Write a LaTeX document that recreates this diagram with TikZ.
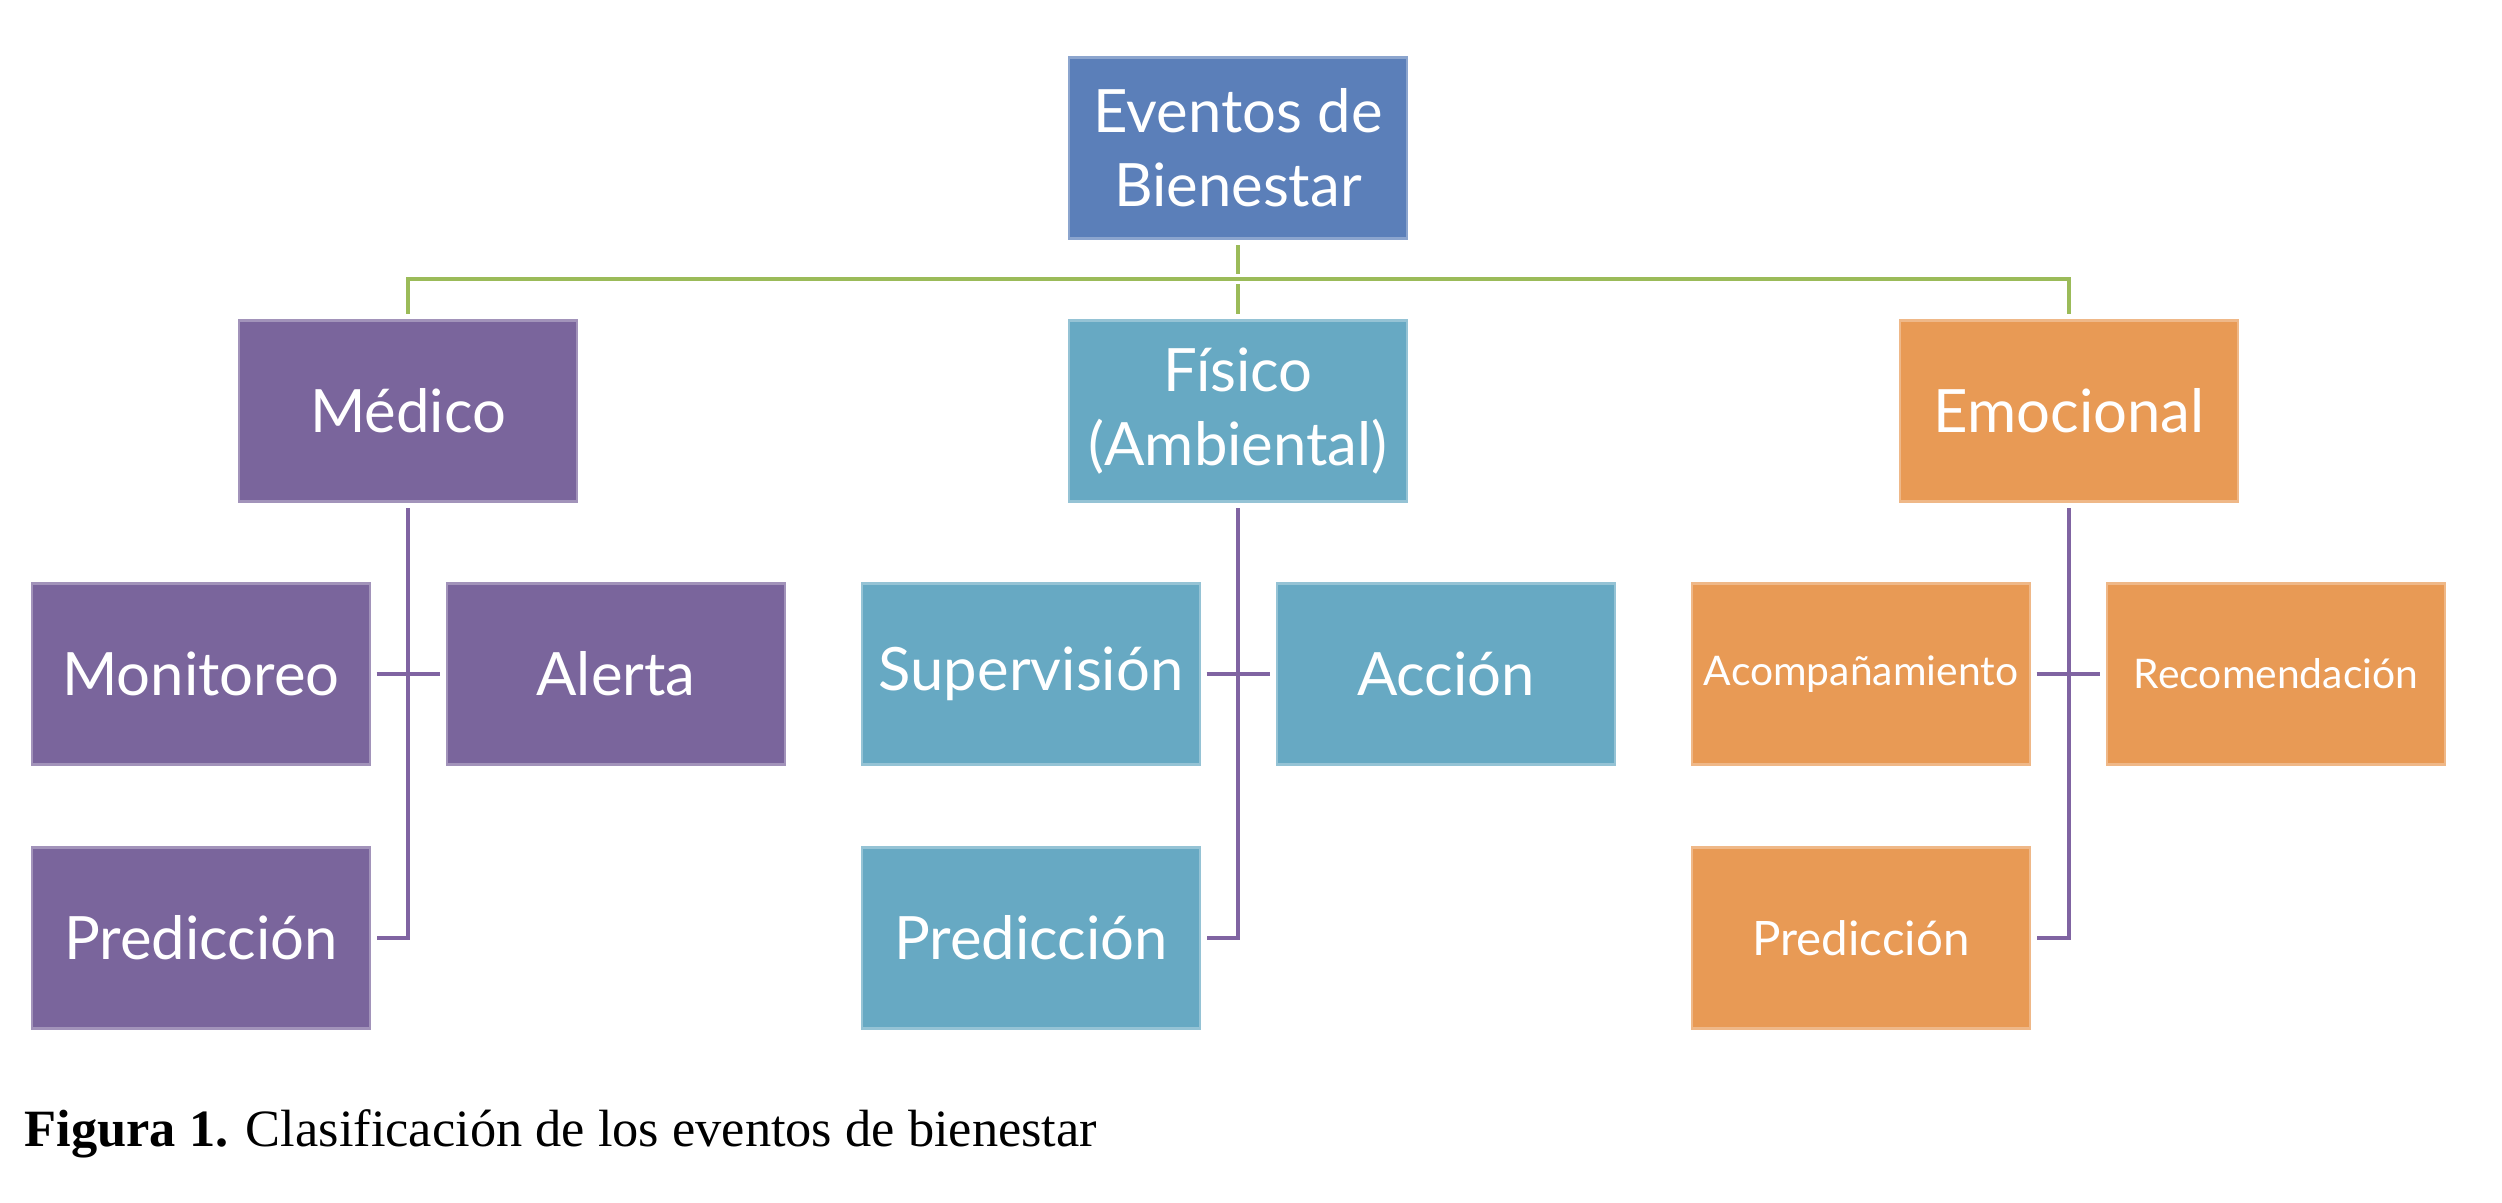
\documentclass[tikz,border=0pt]{standalone}
\usepackage{fontspec}
\setmainfont{Liberation Serif}
\newfontfamily\boxfont{Lato}
\usepackage{xcolor}
\usepackage{tikz}
\usetikzlibrary{positioning}

\definecolor{rootblue}{RGB}{91,127,185}
\definecolor{medpurple}{RGB}{122,101,156}
\definecolor{fisteal}{RGB}{103,169,195}
\definecolor{emoorange}{RGB}{232,154,85}
\definecolor{busgreen}{RGB}{155,187,89}
\definecolor{subpurple}{RGB}{128,100,162}

\begin{document}
\begin{tikzpicture}[x=0.01cm,y=-0.01cm,
  evbox/.style={fill=#1, draw=#1!70!white, line width=0.7pt, minimum width=3.38cm, minimum height=1.81cm,
    inner sep=0pt, align=center, text=white, font=\boxfont\fontsize{17}{21}\selectfont},
  busline/.style={busgreen, line width=1.4pt, shorten >=1.5pt, shorten <=1.5pt},
  subline/.style={subpurple, line width=1.1pt, shorten >=1.5pt, shorten <=1.5pt}]
\useasboundingbox (0,0) rectangle (2502,1202);
% top level
\node[evbox=rootblue] (root) at (1238,148) {Eventos de\\Bienestar};
\node[evbox=medpurple] (med) at (408,411) {Médico};
\node[evbox=fisteal] (fis) at (1238,411) {Físico\\(Ambiental)};
\node[evbox=emoorange] (emo) at (2069,411) {Emocional};
% medico
\node[evbox=medpurple] (mon) at (201,674) {Monitoreo};
\node[evbox=medpurple] (ale) at (616,674) {Alerta};
\node[evbox=medpurple] (medpre) at (201,938) {Predicción};
% fisico
\node[evbox=fisteal] (sup) at (1031,674) {Supervisión};
\node[evbox=fisteal] (acc) at (1446,674) {Acción};
\node[evbox=fisteal] (fispre) at (1031,938) {Predicción};
% emocional
\node[evbox=emoorange, font=\boxfont\fontsize{11.6}{14}\selectfont] (aco) at (1861,674) {Acompañamiento};
\node[evbox=emoorange, font=\boxfont\fontsize{11.6}{14}\selectfont] (rec) at (2276,674) {Recomendación};
\node[evbox=emoorange, font=\boxfont\fontsize{13.5}{16}\selectfont] (emopre) at (1861,938) {Predicción};
% connectors
\coordinate (bus) at (1238,279);
\draw[busline] (root.south) -- (bus);
\draw[busline] (med.north) |- (bus) -| (emo.north);
\draw[busline] (bus) -- (fis.north);
\draw[subline] (med.south) |- (medpre.east);
\draw[subline] (mon.east) -- (ale.west);
\draw[subline] (fis.south) |- (fispre.east);
\draw[subline] (sup.east) -- (acc.west);
\draw[subline] (emo.south) |- (emopre.east);
\draw[subline] (aco.east) -- (rec.west);
% caption
\node[anchor=base west, inner sep=0pt, font=\fontsize{14.9}{18}\selectfont] (cap) at (24,1146)
  {\textbf{Figura 1.} Clasificación de los eventos de bienestar};
\end{tikzpicture}
\end{document}
